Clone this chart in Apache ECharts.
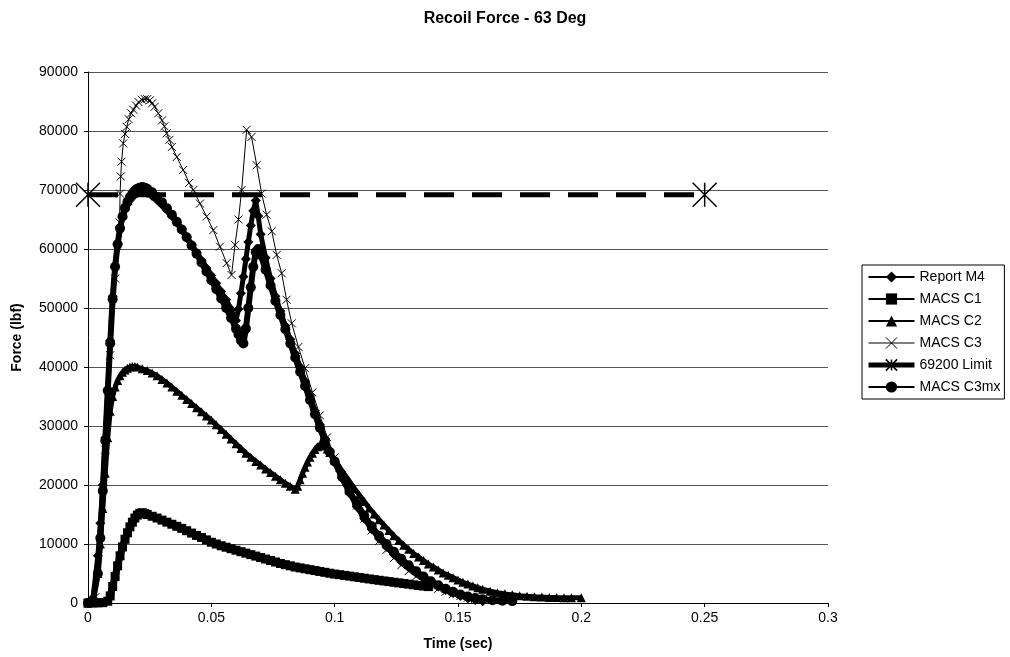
<!DOCTYPE html>
<html>
<head>
<meta charset="utf-8">
<script src="https://cdn.jsdelivr.net/npm/echarts@6/dist/echarts.min.js"></script>
<style>
html,body{margin:0;padding:0;background:#fff;}
#chart{width:1010px;height:657px;}
</style>
</head>
<body>
<div id="chart"></div>
<script>
// ---- data: [time (sec), force (lbf)] ----
var xTicks = [0, 0.05, 0.1, 0.15, 0.2, 0.25, 0.3];
var yTicks = [0, 10000, 20000, 30000, 40000, 50000, 60000, 70000, 80000, 90000];
var seriesNames = ['Report M4', 'MACS C1', 'MACS C2', 'MACS C3', '69200 Limit', 'MACS C3mx'];

var reportM4 = [[0,0],[0.002,800],[0.004,8000],[0.005,13500],[0.006,20000],[0.007,28000],[0.008,36000],[0.009,44500],[0.010,52000],[0.011,57000],[0.012,60800],[0.013,63500],[0.014,65300],[0.015,66600],[0.016,67600],[0.017,68300],[0.018,68800],[0.019,69200],[0.020,69500],[0.021,69700],[0.022,69800],[0.023,69700],[0.024,69500],[0.026,69000],[0.028,68300],[0.030,67500],[0.032,66600],[0.034,65600],[0.036,64500],[0.038,63300],[0.040,62000],[0.042,60700],[0.044,59400],[0.046,58100],[0.048,56800],[0.050,55500],[0.052,54200],[0.054,52800],[0.056,51400],[0.058,49800],[0.060,47900],[0.061,49800],[0.062,52500],[0.063,55300],[0.064,58300],[0.065,61200],[0.066,64000],[0.067,66500],[0.068,68200],[0.069,65600],[0.070,62500],[0.072,58500],[0.074,55000],[0.076,52000],[0.078,49500],[0.080,47000],[0.082,44700],[0.084,42300],[0.086,40000],[0.088,37600],[0.090,35100],[0.092,32600],[0.094,30200],[0.096,27900],[0.098,25800],[0.100,23800],[0.103,21100],[0.106,18600],[0.109,16300],[0.112,14300],[0.115,12500],[0.118,10900],[0.121,9500],[0.124,8200],[0.127,7000],[0.130,6000],[0.133,5100],[0.136,4300],[0.139,3500],[0.142,2800],[0.145,2200],[0.148,1700],[0.151,1200],[0.154,800],[0.157,500],[0.160,300]];

var macsC1 = [[0,0],[0.002,0],[0.004,30],[0.006,60],[0.008,300],[0.009,1200],[0.010,2800],[0.011,4500],[0.012,6300],[0.013,8000],[0.014,9500],[0.015,10800],[0.016,11900],[0.017,12900],[0.018,13700],[0.019,14400],[0.020,14900],[0.021,15200],[0.022,15300],[0.023,15150],[0.024,15000],[0.026,14700],[0.028,14400],[0.030,14050],[0.032,13700],[0.034,13350],[0.036,13000],[0.038,12650],[0.040,12250],[0.042,11850],[0.044,11450],[0.046,11100],[0.048,10700],[0.050,10300],[0.052,10000],[0.054,9700],[0.056,9450],[0.058,9200],[0.060,8950],[0.062,8700],[0.064,8450],[0.066,8200],[0.068,7950],[0.070,7700],[0.072,7450],[0.074,7200],[0.076,6950],[0.078,6700],[0.080,6500],[0.082,6300],[0.084,6100],[0.086,5950],[0.088,5800],[0.090,5650],[0.092,5500],[0.094,5350],[0.096,5200],[0.098,5050],[0.100,4900],[0.102,4800],[0.104,4680],[0.106,4560],[0.108,4440],[0.110,4320],[0.112,4200],[0.114,4080],[0.116,3960],[0.118,3850],[0.120,3740],[0.122,3630],[0.124,3520],[0.126,3410],[0.128,3300],[0.130,3190],[0.132,3080],[0.134,2970],[0.136,2870],[0.138,2780]];

var macsC2 = [[0,0],[0.002,300],[0.004,5000],[0.005,10000],[0.006,16000],[0.007,22000],[0.008,28000],[0.009,32500],[0.010,35000],[0.011,36600],[0.012,37700],[0.013,38500],[0.014,39100],[0.015,39500],[0.016,39800],[0.017,40000],[0.018,40100],[0.019,40100],[0.020,40000],[0.022,39700],[0.024,39400],[0.026,39000],[0.028,38500],[0.030,37900],[0.032,37300],[0.034,36600],[0.036,35900],[0.038,35200],[0.040,34500],[0.042,33800],[0.044,33100],[0.046,32400],[0.048,31700],[0.050,31000],[0.052,30200],[0.054,29400],[0.056,28600],[0.058,27800],[0.060,27000],[0.062,26200],[0.064,25400],[0.066,24700],[0.068,24000],[0.070,23400],[0.072,22700],[0.074,22100],[0.076,21500],[0.078,20900],[0.080,20300],[0.082,19800],[0.084,19300],[0.085,19800],[0.086,20900],[0.087,22000],[0.088,23000],[0.089,23900],[0.090,24700],[0.091,25400],[0.092,26000],[0.093,26500],[0.094,26800],[0.095,27000],[0.096,26600],[0.097,26100],[0.098,25500],[0.100,24200],[0.102,23000],[0.104,21800],[0.106,20600],[0.108,19400],[0.110,18300],[0.112,17200],[0.114,16100],[0.116,15100],[0.118,14100],[0.120,13200],[0.122,12300],[0.124,11400],[0.126,10600],[0.128,9800],[0.130,9100],[0.132,8400],[0.134,7800],[0.136,7200],[0.138,6600],[0.140,6100],[0.142,5600],[0.144,5100],[0.146,4700],[0.148,4300],[0.150,3900],[0.152,3500],[0.154,3200],[0.156,2900],[0.158,2600],[0.160,2350],[0.163,2000],[0.166,1750],[0.169,1550],[0.172,1380],[0.175,1250],[0.178,1150],[0.181,1070],[0.184,1000],[0.187,950],[0.190,920],[0.193,900],[0.196,880],[0.200,870]];

var macsC3 = [[0,0],[0.003,1000],[0.005,10000],[0.007,26000],[0.009,42000],[0.011,55000],[0.012,60500],[0.0128,64500],[0.0130,69400],[0.0133,72300],[0.0136,74800],[0.0143,77900],[0.015,79500],[0.0157,80700],[0.0165,82000],[0.0175,83000],[0.0184,83600],[0.0195,84300],[0.0205,84900],[0.0218,85300],[0.023,85400],[0.024,85400],[0.0251,85200],[0.026,84700],[0.027,84100],[0.0285,83000],[0.030,81800],[0.031,80800],[0.0319,79600],[0.033,78500],[0.034,77300],[0.036,75600],[0.0386,73400],[0.041,71200],[0.0427,70000],[0.0454,67700],[0.0481,65500],[0.0508,63200],[0.0535,60400],[0.0562,57600],[0.0582,55600],[0.0596,60700],[0.061,65000],[0.0623,70000],[0.0643,80200],[0.0663,79000],[0.0684,74200],[0.0704,69400],[0.0724,65800],[0.0745,63000],[0.0765,59000],[0.0785,55900],[0.0805,51400],[0.0826,47400],[0.0853,43400],[0.088,39800],[0.091,35700],[0.094,31800],[0.097,28100],[0.100,24700],[0.103,21700],[0.106,19000],[0.109,16500],[0.112,14300],[0.115,12300],[0.118,10500],[0.121,9000],[0.124,7600],[0.127,6400],[0.130,5400],[0.133,4500],[0.136,3700],[0.139,3000],[0.142,2400],[0.145,1900],[0.148,1500],[0.151,1200],[0.154,900],[0.157,700],[0.160,550]];

var limit69200 = [[0,69200],[0.25,69200]];

var macsC3mx = [[0,0],[0.002,500],[0.004,5000],[0.005,11000],[0.006,19000],[0.007,27500],[0.008,36000],[0.009,44000],[0.010,51500],[0.011,57000],[0.012,60800],[0.013,63500],[0.014,65500],[0.015,67000],[0.016,68000],[0.017,68800],[0.018,69400],[0.019,69900],[0.020,70200],[0.021,70400],[0.022,70500],[0.023,70400],[0.024,70200],[0.026,69600],[0.028,68800],[0.030,67900],[0.032,66900],[0.034,65800],[0.036,64600],[0.038,63300],[0.040,62000],[0.042,60600],[0.044,59200],[0.046,57700],[0.048,56200],[0.050,54700],[0.052,53200],[0.054,51600],[0.056,50000],[0.058,48300],[0.060,46500],[0.061,45500],[0.062,44500],[0.063,44000],[0.064,46500],[0.065,50000],[0.066,53500],[0.067,57000],[0.068,59500],[0.069,60000],[0.070,59000],[0.072,56500],[0.074,53800],[0.076,51200],[0.078,48800],[0.080,46400],[0.082,44000],[0.084,41600],[0.086,39200],[0.088,36800],[0.090,34400],[0.092,32000],[0.094,29700],[0.096,27500],[0.098,25600],[0.100,24000],[0.103,21400],[0.106,19000],[0.109,16800],[0.112,14800],[0.115,13000],[0.118,11400],[0.121,10000],[0.124,8700],[0.127,7500],[0.130,6400],[0.133,5400],[0.136,4500],[0.139,3700],[0.142,3000],[0.145,2400],[0.148,1900],[0.151,1450],[0.154,1100],[0.157,850],[0.160,650],[0.164,480],[0.168,380],[0.172,320]];

var FONT = '"Liberation Sans", Arial, sans-serif';
var xPath = 'path://M0,0L10,10M10,0L0,10';
var starPath = 'path://M0,0L20,20M20,0L0,20M10,0L10,20';

var chart = echarts.init(document.getElementById('chart'), null, {renderer: 'canvas'});

function lineSeries(name, data, symbol, size, lw, extra) {
  var s = {
    name: name, type: 'line', data: data,
    symbol: symbol, symbolSize: size, showSymbol: true,
    itemStyle: {color: '#000'},
    lineStyle: {color: '#000', width: lw},
    emphasis: {disabled: true},
    z: 2
  };
  if (extra) { for (var k in extra) s[k] = extra[k]; }
  return s;
}

var legendData = seriesNames.map(function (n) {
  var w = (n === '69200 Limit') ? 5 : (n === 'MACS C3' ? 1 : 2);
  var item = {name: n, lineStyle: {width: w, type: 'solid'}};
  if (n === 'MACS C3') item.itemStyle = {borderWidth: 1};
  if (n === '69200 Limit') item.itemStyle = {borderWidth: 1.5};
  return item;
});

var option = {
  animation: false,
  backgroundColor: '#fff',
  title: {
    text: 'Recoil Force - 63 Deg', left: 'center', top: 6,
    textStyle: {fontFamily: FONT, fontSize: 16, fontWeight: 'bold', color: '#000'}
  },
  legend: {
    orient: 'vertical', left: 862, top: 265,
    itemWidth: 46, itemHeight: 14, itemGap: 8,
    padding: [5, 4, 5, 4],
    borderColor: '#000', borderWidth: 1,
    textStyle: {fontFamily: FONT, fontSize: 14, color: '#000'},
    data: legendData
  },
  grid: {left: 88, top: 72, width: 740, height: 531, containLabel: false},
  xAxis: {
    type: 'value', min: 0, max: 0.3, interval: 0.05,
    name: 'Time (sec)', nameLocation: 'middle', nameGap: 34,
    nameTextStyle: {fontFamily: FONT, fontSize: 14, fontWeight: 'bold', color: '#000'},
    axisLine: {show: true, lineStyle: {color: '#000', width: 1}},
    axisTick: {show: true, inside: false, length: 4, lineStyle: {color: '#000'}},
    axisLabel: {fontFamily: FONT, fontSize: 14, color: '#000', margin: 8,
      formatter: function (v) { return String(+v.toFixed(2)); }},
    splitLine: {show: false}
  },
  yAxis: {
    type: 'value', min: 0, max: 90000, interval: 10000,
    name: 'Force (lbf)', nameLocation: 'middle', nameGap: 64, nameRotate: 90,
    nameTextStyle: {fontFamily: FONT, fontSize: 14, fontWeight: 'bold', color: '#000'},
    axisLine: {show: true, lineStyle: {color: '#000', width: 1}},
    axisTick: {show: true, inside: false, length: 4, lineStyle: {color: '#000'}},
    axisLabel: {fontFamily: FONT, fontSize: 14, color: '#000', margin: 10,
      formatter: function (v) { return String(v); }},
    splitLine: {show: true, lineStyle: {color: '#555', width: 1}}
  },
  series: [
    lineSeries('Report M4', reportM4, 'diamond', 10, 5),
    lineSeries('MACS C1', macsC1, 'rect', 9, 7),
    lineSeries('MACS C2', macsC2, 'triangle', 9, 5),
    lineSeries('MACS C3', macsC3, xPath, 8, 1, {
      itemStyle: {color: '#000', borderColor: '#000', borderWidth: 1},
      z: 3
    }),
    lineSeries('69200 Limit', limit69200, starPath, 24, 5, {
      lineStyle: {color: '#000', width: 5, type: [30, 18]},
      itemStyle: {color: '#000', borderColor: '#000', borderWidth: 1.5}
    }),
    lineSeries('MACS C3mx', macsC3mx, 'circle', 10, 6)
  ]
};
chart.setOption(option);
</script>
</body>
</html>
